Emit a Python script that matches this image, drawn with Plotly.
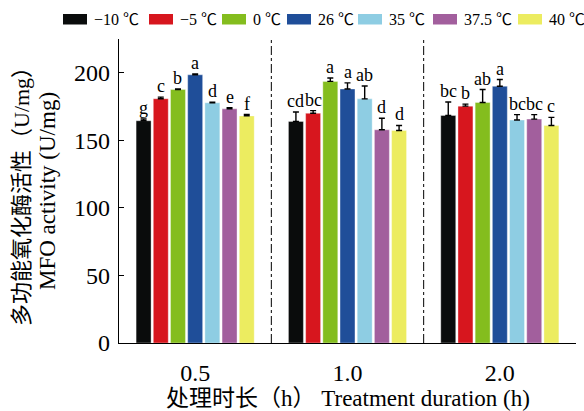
import plotly.graph_objects as go

# Treatment durations (h) and temperature groups
durations = ["0.5", "1.0", "2.0"]
temps = ["\u221210 \u2103", "\u22125 \u2103", "0 \u2103", "26 \u2103", "35 \u2103", "37.5 \u2103", "40 \u2103"]
colors = ["#0a0c0c", "#d7161e", "#84bd1e", "#1f4e99", "#8ecde3", "#a25f9d", "#ecec60"]

# MFO activity (U/mg), one list per temperature, values at 0.5 / 1.0 / 2.0 h
mfo_m10 = [164.5, 164.0, 168.4]
mfo_m5 = [180.8, 170.0, 175.3]
mfo_0 = [187.6, 193.6, 178.0]
mfo_26 = [198.5, 188.0, 190.0]
mfo_35 = [177.8, 180.7, 165.0]
mfo_375 = [173.3, 157.8, 165.7]
mfo_40 = [168.1, 157.3, 161.0]

# Standard errors
se_m10 = [1.3, 7.0, 10.0]
se_m5 = [1.2, 2.0, 1.5]
se_0 = [0.5, 2.5, 9.6]
se_26 = [0.6, 4.5, 5.0]
se_35 = [0.5, 9.5, 4.0]
se_375 = [0.8, 8.6, 3.3]
se_40 = [1.0, 3.7, 6.0]

# Significance letters
sig_m10 = ["g", "cd", "bc"]
sig_m5 = ["c", "bc", "b"]
sig_0 = ["b", "a", "ab"]
sig_26 = ["a", "a", "a"]
sig_35 = ["d", "ab", "bc"]
sig_375 = ["e", "d", "bc"]
sig_40 = ["f", "d", "c"]

means = [mfo_m10, mfo_m5, mfo_0, mfo_26, mfo_35, mfo_375, mfo_40]
errors = [se_m10, se_m5, se_0, se_26, se_35, se_375, se_40]
letters = [sig_m10, sig_m5, sig_0, sig_26, sig_35, sig_375, sig_40]

SERIF = "Liberation Serif, Times New Roman, Noto Sans CJK SC, serif"

# figure / plot-area geometry in px
W, H = 584, 411
ML, MR, MT, MB = 119, 8, 39, 68
PW, PH = W - ML - MR, H - MT - MB

BARGAP = 0.21
GROUPGAP = 0.13
n = len(temps)
xpos = list(range(len(durations)))

fig = go.Figure()
for i in range(n):
    fig.add_trace(go.Bar(
        x=xpos, y=means[i], name=temps[i],
        marker=dict(color=colors[i], line=dict(width=0.6, color="rgba(255,255,255,0.6)")),
        error_y=dict(type="data", symmetric=False, array=errors[i],
                     arrayminus=[0] * len(durations),
                     color="#000000", thickness=1.4, width=3),
        showlegend=False,
    ))

annotations = []
# letters above each error bar
slot = (1 - BARGAP) / n
for i in range(n):
    for j, xc in enumerate(xpos):
        xb = xc - (1 - BARGAP) / 2 + slot * (i + 0.5)
        annotations.append(dict(
            x=xb, y=means[i][j] + errors[i][j], xref="x", yref="y",
            text=letters[i][j], showarrow=False, yanchor="bottom",
            yshift=-1, font=dict(family=SERIF, size=18, color="#000"),
        ))

shapes = []
# dash-dot separators between duration groups
for k in range(len(durations) - 1):
    xm = (xpos[k] + xpos[k + 1]) / 2
    shapes.append(dict(type="line", xref="x", yref="paper", x0=xm, x1=xm, y0=0, y1=1,
                       line=dict(color="#000", width=1, dash="dashdot")))

# legend row drawn across the top
def px2x(px):
    return (px - ML) / PW

def py2y(py):
    return (H - MB - py) / PH

swatch_left = [63, 149, 222, 287, 358, 433, 518]
sw_w, sw_top, sw_bot = 24, 14, 24.5
for i in range(n):
    shapes.append(dict(type="rect", xref="paper", yref="paper",
                       x0=px2x(swatch_left[i]), x1=px2x(swatch_left[i] + sw_w),
                       y0=py2y(sw_bot), y1=py2y(sw_top),
                       fillcolor=colors[i], line=dict(width=0)))
    annotations.append(dict(x=px2x(swatch_left[i] + sw_w + 5), y=py2y((sw_top + sw_bot) / 2),
                            xref="paper", yref="paper", xanchor="left", yanchor="middle",
                            text=temps[i], showarrow=False,
                            font=dict(family=SERIF, size=16, color="#000")))

# axis titles
annotations.append(dict(x=0, y=0.5, xref="paper", yref="paper", xshift=-98,
                        text="多功能氧化酶活性（U/mg）", textangle=-90, showarrow=False,
                        xanchor="center", yanchor="middle",
                        font=dict(family=SERIF, size=22, color="#000")))
annotations.append(dict(x=0, y=0.5, xref="paper", yref="paper", xshift=-72,
                        text="MFO activity (U/mg)", textangle=-90, showarrow=False,
                        xanchor="center", yanchor="middle",
                        font=dict(family=SERIF, size=23, color="#000")))
annotations.append(dict(x=0.5, y=0, xref="paper", yref="paper", yshift=-55,
                        text="处理时长（h） Treatment duration (h)", showarrow=False,
                        xanchor="center", yanchor="middle",
                        font=dict(family=SERIF, size=23, color="#000")))

fig.update_layout(
    width=W, height=H,
    margin=dict(l=ML, r=MR, t=MT, b=MB, pad=0),
    paper_bgcolor="white", plot_bgcolor="white",
    barmode="group", bargap=BARGAP, bargroupgap=GROUPGAP,
    font=dict(family=SERIF, size=23, color="#000"),
    xaxis=dict(range=[-0.5, len(durations) - 0.5], tickvals=xpos, ticktext=durations,
               showline=True, linecolor="#000", linewidth=1.2, ticks="",
               showgrid=False, zeroline=False, ticklabelstandoff=8,
               tickfont=dict(family=SERIF, size=24, color="#000")),
    yaxis=dict(range=[0, 225], tickvals=[0, 50, 100, 150, 200],
               showline=True, linecolor="#000", linewidth=1.2,
               ticks="inside", ticklen=5, tickcolor="#000", tickwidth=1,
               showgrid=False, zeroline=False, ticklabelstandoff=3,
               tickfont=dict(family=SERIF, size=24, color="#000")),
    shapes=shapes, annotations=annotations, showlegend=False,
)

fig.write_html("out.html")
